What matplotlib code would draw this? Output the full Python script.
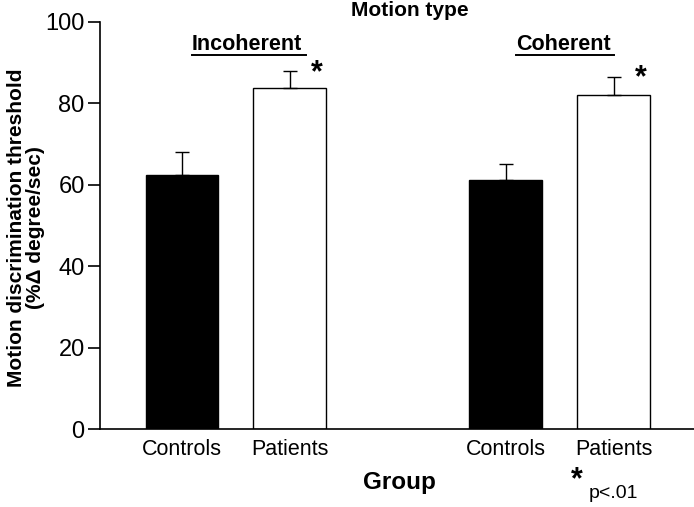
import matplotlib
matplotlib.use("Agg")
import matplotlib.pyplot as plt
from matplotlib.lines import Line2D

plt.rcParams['font.family'] = ['Liberation Sans', 'DejaVu Sans']

# data
groups = ["Controls", "Patients", "Controls", "Patients"]
means = [62.5, 83.9, 61.3, 82.1]
errs = [5.5, 4.0, 3.9, 4.5]
colors = ["black", "white", "black", "white"]
pos = [0, 1, 3, 4]
panels = ["Incoherent", "Coherent"]
yticks = [0, 20, 40, 60, 80, 100]

fig = plt.figure(figsize=(6.94, 5.07), dpi=100)
ax = fig.add_axes([100/694, 78/507, 594/694, 407/507])

ax.bar(pos, means, width=0.676, color=colors, edgecolor="black", linewidth=1.0,
       yerr=[[0]*4, errs], error_kw=dict(ecolor="black", elinewidth=1.0, capsize=5, capthick=1.0))

ax.set_xlim(-0.76, 4.745)
ax.set_ylim(0, 100)
ax.set_yticks(yticks)
ax.set_xticks(pos)
ax.set_xticklabels(groups, fontsize=15.5)
ax.tick_params(axis="x", length=0, pad=7)
ax.tick_params(axis="y", length=9, width=1.2, labelsize=17, pad=2)
ax.spines["top"].set_visible(False)
ax.spines["right"].set_visible(False)
ax.spines["left"].set_linewidth(1.2)
ax.spines["bottom"].set_linewidth(1.2)

# y label, placed by hand
fig.text(26/694, 1 - 228/507, "Motion discrimination threshold\n(%\u0394 degree/sec)", fontsize=15,
         fontweight="bold", linespacing=1.0, rotation=90, ha="center", va="center",
         multialignment="center")

# significance stars
for i in [1, 3]:
    ax.text(pos[i] + 0.25, means[i] + errs[i] - 0.5, "*", fontsize=22, fontweight="bold",
            ha="center", va="center")

fig.text(410/694, 1 - 10/507, "Motion type", fontsize=15, fontweight="bold", ha="center", va="center")
fig.text(399/694, 1 - 482/507, "Group", fontsize=17.5, fontweight="bold", ha="center", va="center")
fig.text(577/694, 1 - 480/507, "*", fontsize=22, fontweight="bold", ha="center", va="center")
fig.text(589/694, 1 - 494/507, "p<.01", fontsize=14, ha="left", va="center")

# panel titles with underline
titles = []
for name, x in zip(panels, [247, 563]):
    t = fig.text(x/694, 1 - 44/507, name, fontsize=15.5, fontweight="bold", ha="center", va="center")
    titles.append(t)
fig.canvas.draw()
r = fig.canvas.get_renderer()
for t in titles:
    bb = t.get_window_extent(r)
    y = (bb.y0 - 0.5) / fig.bbox.height
    fig.add_artist(Line2D([bb.x0 / fig.bbox.width, (bb.x1 + 4) / fig.bbox.width], [y, y],
                          color="black", linewidth=1.4, transform=fig.transFigure))

fig.savefig("out.png", dpi=100)
